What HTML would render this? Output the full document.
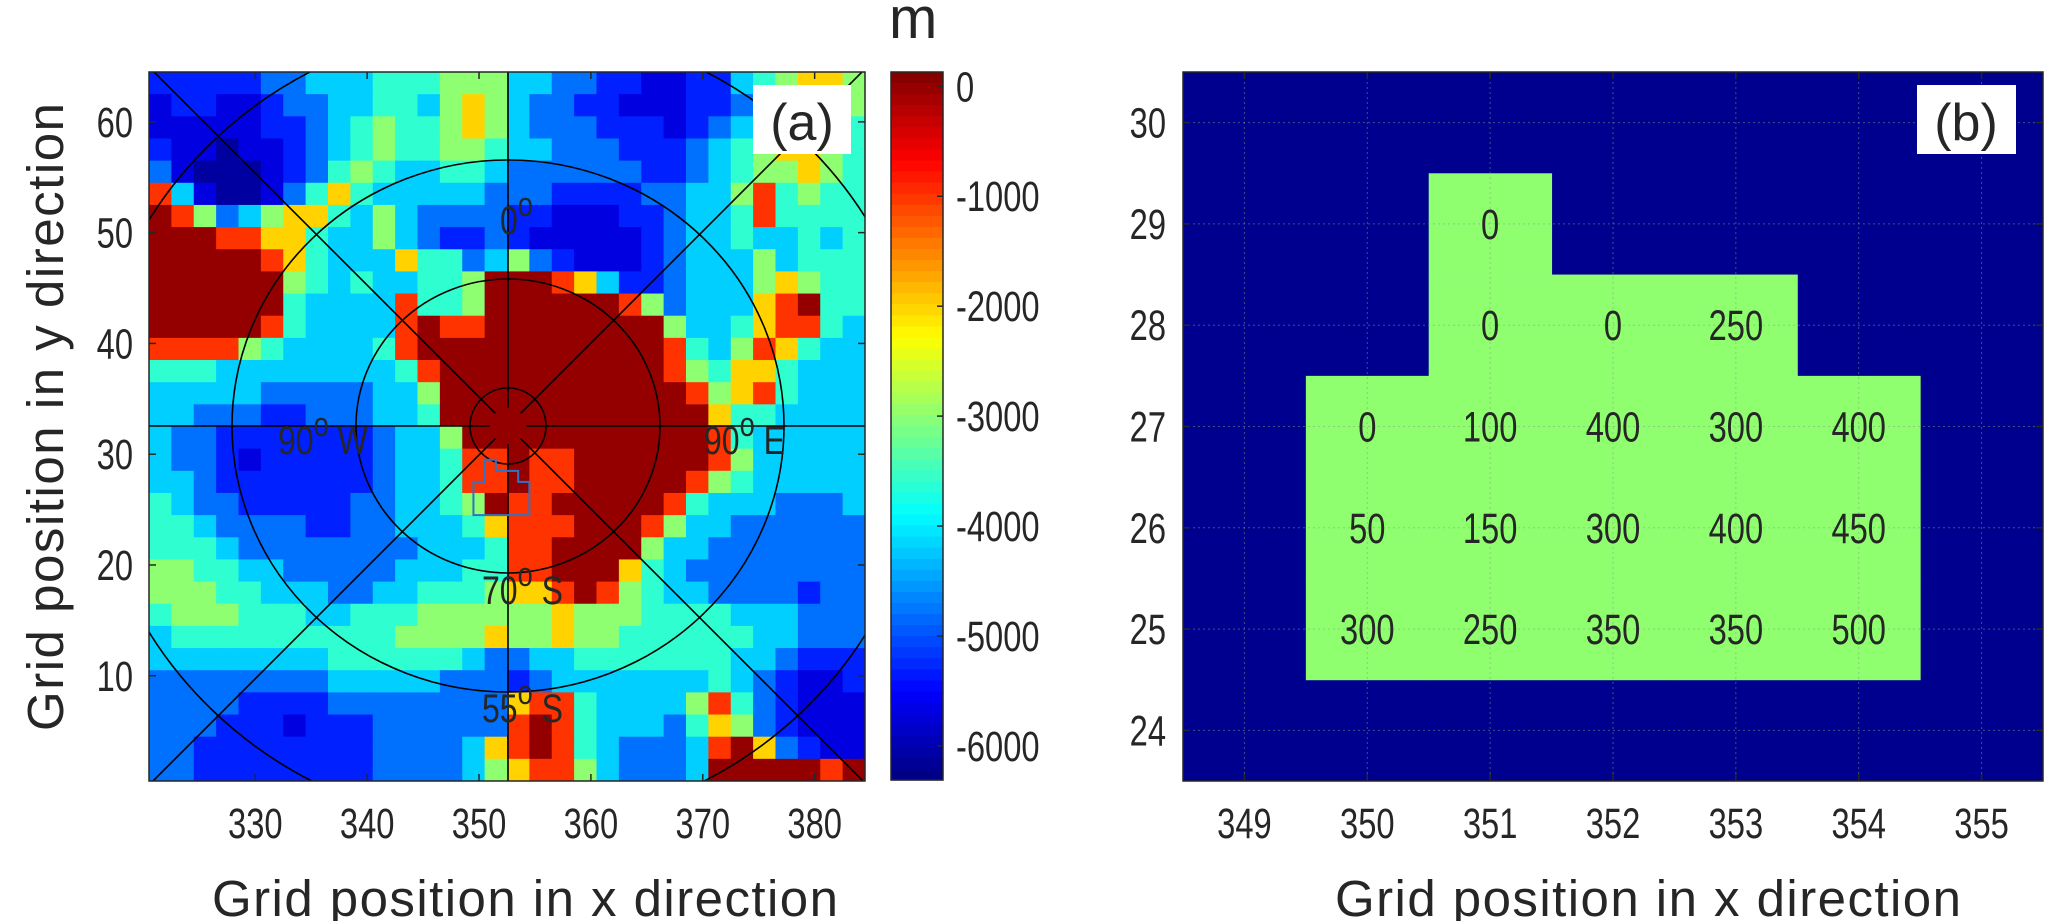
<!DOCTYPE html>
<html><head><meta charset="utf-8">
<style>
html,body{margin:0;padding:0;background:#fff;overflow:hidden;width:2067px;height:921px;}
svg{display:block;}
text{font-family:"Liberation Sans",Arial,sans-serif;fill:#262626;}
</style></head>
<body>
<svg id="fig" width="2067" height="921" viewBox="0 0 2067 921" xmlns="http://www.w3.org/2000/svg">
  <defs>
    <clipPath id="clipA"><rect x="149" y="72" width="716" height="709"/></clipPath>
  </defs>
  <g id="panelA"></g>
  <g id="cbar"></g>
  <g id="panelB"></g>
</svg>
<script>
// ---------- data: panel (a) bathymetry, coarse 32x32 levels (2 grid units per cell), top row = y 64 ----------
const levelDepths = [-6100,-5700,-5300,-4800,-4200,-3600,-3000,-2000,-1000,0];
const depthRows = [
"22222334445556664433221122456776",
"12211233445546764332211122356776",
"11111223456556764333222123467765",
"21101123456556654433322234567765",
"31000123565445543333332234566765",
"84100135754444433322223344685655",
"98634677546433332211122344585555",
"99988775446432232111112344544545",
"99999875444755346321112344464555",
"99999965454455699987422344467655",
"99999954444855699999986344478955",
"99999854444898899999999644578854",
"88886544445899999999999854687544",
"55544444444589999999999865775444",
"44444333334469999999999986785444",
"44333223334459999999999997554444",
"43322222223446999999999998544444",
"43321222223445889889999998644444",
"44322222223445889889999986544444",
"54332222233445698899999854443334",
"55433332233444578889998644333333",
"55543333333344458899996443333333",
"66554433333444558899975433333333",
"66655444334455567789865443333233",
"56665554455566666676665555444333",
"45555555555666676676655555544333",
"44444444555555433445555555443222",
"33333333444443332344444445432112",
"33332222333333337885444468532111",
"33322212223333338985444357632111",
"33222222223333478985433348973211",
"33222222223333467886433349999989"
];
const xTicksA = [330,340,350,360,370,380];
const yTicksA = [10,20,30,40,50,60];
const cbarTicks = [0,-1000,-2000,-3000,-4000,-5000,-6000];
// panel (b) cells
const cellX =  [351,351,352,353,350,351,352,353,354,350,351,352,353,354,350,351,352,353,354];
const cellY =  [29, 28, 28, 28, 27, 27, 27, 27, 27, 26, 26, 26, 26, 26, 25, 25, 25, 25, 25];
const cellVal =[0,  0,  0,  250,0,  100,400,300,400,50, 150,300,400,450,300,250,350,350,500];
const xTicksB = [349,350,351,352,353,354,355];
const yTicksB = [24,25,26,27,28,29,30];

const NS="http://www.w3.org/2000/svg";
function mk(tag,attrs,parent){const e=document.createElementNS(NS,tag);for(const k in attrs)e.setAttribute(k,attrs[k]);parent.appendChild(e);return e;}
const A={x0:149,x1:865,y0:72,y1:781,xmin:320.5,xmax:384.5,ymin:0.5,ymax:64.5};
const ax=v=>A.x0+(v-A.xmin)/(A.xmax-A.xmin)*(A.x1-A.x0);
const ay=v=>A.y1-(v-A.ymin)/(A.ymax-A.ymin)*(A.y1-A.y0);
const B={x0:1183,x1:2043,y0:72,y1:781,xmin:348.5,xmax:355.5,ymin:23.5,ymax:30.5};
const bx=v=>B.x0+(v-B.xmin)/(B.xmax-B.xmin)*(B.x1-B.x0);
const by=v=>B.y1-(v-B.ymin)/(B.ymax-B.ymin)*(B.y1-B.y0);
const CB={top:72,bot:780,vmax:130,vmin:-6310};
const cy=v=>CB.top+(CB.vmax-v)/(CB.vmax-CB.vmin)*(CB.bot-CB.top);
function jet(t){const c=x=>Math.max(0,Math.min(1,x));const r=c(1.5-Math.abs(4*t-3)),g=c(1.5-Math.abs(4*t-2)),b=c(1.5-Math.abs(4*t-1));return `rgb(${Math.round(r*255)},${Math.round(g*255)},${Math.round(b*255)})`;}
const depthColor=v=>jet((v-CB.vmin)/(CB.vmax-CB.vmin));

function tickText(parent,x,y,str,anchor,size,name){
  const t=mk('text',{transform:`translate(${x},${y}) scale(0.76,1)`,'font-size':size,'text-anchor':anchor},parent);
  
  
  t.textContent=str;return t;
}

// ---------- panel A ----------
const pA=document.getElementById('panelA');
const heat=mk('g',{'clip-path':'url(#clipA)'},pA);


depthRows.forEach((row,r)=>{
  for(let c=0;c<row.length;c++){
    const v=levelDepths[+row[c]];
    const xa=A.xmin+2*c, ya=A.ymax-2*r;
    const cell=mk('rect',{x:ax(xa),y:ay(ya),width:ax(xa+2)-ax(xa)+0.6,height:ay(ya-2)-ay(ya)+0.6,fill:depthColor(v)},heat);
    
    
  }
});
const grid=mk('g',{'clip-path':'url(#clipA)',stroke:'#000','stroke-width':1.6,fill:'none'},pA);


const cx=508, cyc=426;
[[38,38],[152,147],[276,266],[418,402]].forEach(([rx,ry])=>{
  const e=mk('ellipse',{cx:cx,cy:cyc,rx:rx,ry:ry},grid);
  
  
});
[0,45,90,135,180,225,270,315].forEach(deg=>{
  const a=deg*Math.PI/180, r0=18, r1=900;
  const l=mk('line',{x1:cx+r0*Math.cos(a),y1:cyc+r0*Math.sin(a),x2:cx+r1*Math.cos(a),y2:cyc+r1*Math.sin(a)},grid);
  
  
});
const outline=mk('polygon',{points:[[349.5,24.5],[349.5,27.5],[350.5,27.5],[350.5,29.5],[351.5,29.5],[351.5,28.5],[353.5,28.5],[353.5,27.5],[354.5,27.5],[354.5,24.5]].map(p=>ax(p[0])+','+ay(p[1])).join(' '),fill:'none',stroke:'#2f73c8','stroke-width':2},pA);


function mapLabel(x,y,main,sup,suffix,name){
  const g=mk('g',{},pA);
  
  
  const t=mk('text',{transform:`translate(${x},${y}) scale(0.8,1)`,'font-size':40,fill:'#000'},g);
  t.innerHTML=`${main}<tspan dy="-18" font-size="34">${sup}</tspan><tspan dy="18"> ${suffix}</tspan>`;
}
mapLabel(500,234,'0','o','','label-0-deg');
mapLabel(278,454,'90','o','W','label-90w');
mapLabel(704,454,'90','o','E','label-90e');
mapLabel(482,604,'70','o','S','label-70s');
mapLabel(482,722,'55','o','S','label-55s');
const frA=mk('rect',{x:A.x0,y:A.y0,width:A.x1-A.x0,height:A.y1-A.y0,fill:'none',stroke:'#262626','stroke-width':1.5},pA);


xTicksA.forEach(v=>{
  mk('line',{x1:ax(v),x2:ax(v),y1:A.y1,y2:A.y1-7,stroke:'#262626','stroke-width':1.5},pA);
  mk('line',{x1:ax(v),x2:ax(v),y1:A.y0,y2:A.y0+7,stroke:'#262626','stroke-width':1.5},pA);
  tickText(pA,ax(v),838,String(v),'middle',43,'x-tick-label');
});
yTicksA.forEach(v=>{
  mk('line',{x1:A.x0,x2:A.x0+7,y1:ay(v),y2:ay(v),stroke:'#262626','stroke-width':1.5},pA);
  mk('line',{x1:A.x1,x2:A.x1-7,y1:ay(v),y2:ay(v),stroke:'#262626','stroke-width':1.5},pA);
  tickText(pA,133,ay(v)+15,String(v),'end',43,'y-tick-label');
});
const labA=mk('rect',{x:753,y:85,width:98,height:69,fill:'#fff'},pA);


const labAt=mk('text',{x:802,y:140,'font-size':52,'text-anchor':'middle',fill:'#000'},pA);


labAt.textContent='(a)';
const xtA=mk('text',{x:525,y:916,'font-size':51,'text-anchor':'middle',textLength:626,fill:'#000'},pA);


xtA.textContent='Grid position in x direction';
const ytA=mk('text',{transform:'translate(63,417) rotate(-90)','font-size':51,'text-anchor':'middle',textLength:628,fill:'#000'},pA);


ytA.textContent='Grid position in y direction';

// ---------- colorbar ----------
const cb=document.getElementById('cbar');
for(let i=0;i<64;i++){
  const v1=CB.vmax-(CB.vmax-CB.vmin)*i/64, v2=CB.vmax-(CB.vmax-CB.vmin)*(i+1)/64;
  const s=mk('rect',{x:891,y:cy(v1),width:52,height:cy(v2)-cy(v1)+0.6,fill:depthColor((v1+v2)/2)},cb);
  
  
}
const cbf=mk('rect',{x:891,y:CB.top,width:52,height:CB.bot-CB.top,fill:'none',stroke:'#262626','stroke-width':1.5},cb);


cbarTicks.forEach(v=>{
  mk('line',{x1:937,x2:943,y1:cy(v),y2:cy(v),stroke:'#262626','stroke-width':1.5},cb);
  tickText(cb,956,cy(v)+15,String(v),'start',43,'colorbar-tick-label');
});
const mT=mk('text',{x:889,y:38,'font-size':58,fill:'#000'},cb);


mT.textContent='m';

// ---------- panel B ----------
const pB=document.getElementById('panelB');
const bg=mk('rect',{x:B.x0,y:B.y0,width:B.x1-B.x0,height:B.y1-B.y0,fill:'#00008f'},pB);


cellX.forEach((x,i)=>{
  const r=mk('rect',{x:bx(x-0.5),y:by(cellY[i]+0.5),width:bx(x+0.5)-bx(x-0.5)+0.5,height:by(cellY[i]-0.5)-by(cellY[i]+0.5)+0.5,fill:'#8fff70'},pB);
  
  
});
xTicksB.forEach(v=>{const l=mk('line',{x1:bx(v),x2:bx(v),y1:B.y0,y2:B.y1,stroke:'#7fa07f','stroke-width':1,'stroke-dasharray':'2,3',opacity:0.5},pB);
  
  });
yTicksB.forEach(v=>{const l=mk('line',{x1:B.x0,x2:B.x1,y1:by(v),y2:by(v),stroke:'#7fa07f','stroke-width':1,'stroke-dasharray':'2,3',opacity:0.5},pB);
  
  });
cellX.forEach((x,i)=>{
  tickText(pB,bx(x),by(cellY[i])+15,String(cellVal[i]),'middle',43,'cell-depth-value');
});
const frB=mk('rect',{x:B.x0,y:B.y0,width:B.x1-B.x0,height:B.y1-B.y0,fill:'none',stroke:'#262626','stroke-width':1.5},pB);


xTicksB.forEach(v=>{
  mk('line',{x1:bx(v),x2:bx(v),y1:B.y1,y2:B.y1-7,stroke:'#262626','stroke-width':1.5},pB);
  mk('line',{x1:bx(v),x2:bx(v),y1:B.y0,y2:B.y0+7,stroke:'#262626','stroke-width':1.5},pB);
  tickText(pB,bx(v),838,String(v),'middle',43,'x-tick-label-b');
});
yTicksB.forEach(v=>{
  mk('line',{x1:B.x0,x2:B.x0+7,y1:by(v),y2:by(v),stroke:'#262626','stroke-width':1.5},pB);
  mk('line',{x1:B.x1,x2:B.x1-7,y1:by(v),y2:by(v),stroke:'#262626','stroke-width':1.5},pB);
  tickText(pB,1166,by(v)+15,String(v),'end',43,'y-tick-label-b');
});
const labB=mk('rect',{x:1917,y:85,width:99,height:69,fill:'#fff'},pB);


const labBt=mk('text',{x:1966,y:140,'font-size':52,'text-anchor':'middle',fill:'#000'},pB);


labBt.textContent='(b)';
const xtB=mk('text',{x:1648,y:916,'font-size':51,'text-anchor':'middle',textLength:626,fill:'#000'},pB);


xtB.textContent='Grid position in x direction';
</script>
</body></html>
